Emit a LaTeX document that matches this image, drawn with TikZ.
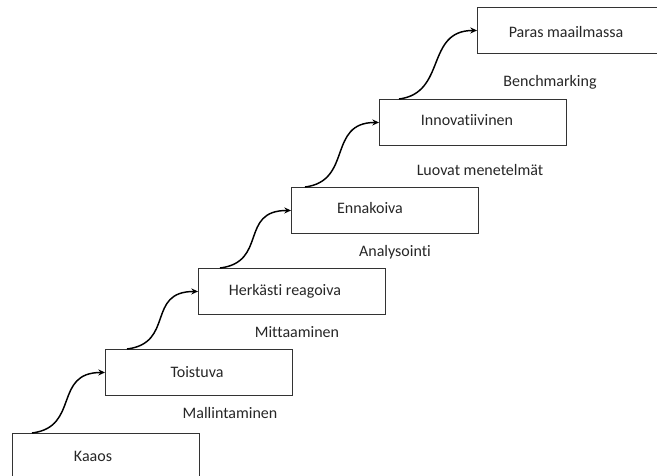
\documentclass[tikz,border=0pt]{standalone}
\usepackage{fontspec}
\setmainfont{Carlito}[Ligatures=NoCommon]
\usetikzlibrary{calc,arrows.meta}
\begin{document}
\begin{tikzpicture}[x=0.75pt,y=-0.75pt,
  stagebox/.style={draw=black!80,line width=0.7pt,rectangle,anchor=north west,
    minimum width=140.25pt,minimum height=34.5pt,inner sep=0pt},
  stagetext/.style={font=\fontsize{12pt}{14pt}\selectfont,text=black!85,inner sep=0pt},
  methodtext/.style={font=\fontsize{12pt}{14pt}\selectfont,text=black!85,inner sep=0pt},
  stepline/.style={line width=1.1pt,black,-{Stealth[length=5pt,width=4.5pt]}}]
\useasboundingbox (0,0) rectangle (657,475);
% the staircase of stages
\node[stagebox] (kaaos) at (12,433) {};
\node[stagebox] (toistuva) at (105,349) {};
\node[stagebox] (herkasti) at (198,268) {};
\node[stagebox] (ennakoiva) at (291,187) {};
\node[stagebox] (innov) at (379,99) {};
\node[stagebox] (paras) at (477,7) {};
% stage names
\node[stagetext] (tkaaos) at (93,456) {Kaaos};
\node[stagetext] (ttoistuva) at (197,372) {Toistuva};
\node[stagetext] (therkasti) at (285,291) {Herkästi reagoiva};
\node[stagetext] (tennakoiva) at (370,208) {Ennakoiva};
\node[stagetext] (tinnov) at (467,120) {Innovatiivinen};
\node[stagetext] (tparas) at (566,32) {Paras maailmassa};
% methods leading to the next stage
\node[methodtext] (m1) at (230,413) {Mallintaminen};
\node[methodtext] (m2) at (297,332) {Mittaaminen};
\node[methodtext] (m3) at (395,252) {Analysointi};
\node[methodtext] (m4) at (480,170) {Luovat menetelmät};
\node[methodtext] (m5) at (550,82) {Benchmarking};
% curved steps between stages
\coordinate (s1) at ($(kaaos.north west)+(20,0)$);
\coordinate (s2) at ($(toistuva.north west)+(22,0)$);
\coordinate (s3) at ($(herkasti.north west)+(22,0)$);
\coordinate (s4) at ($(ennakoiva.north west)+(14,0)$);
\coordinate (s5) at ($(innov.north west)+(20,0)$);
\draw[stepline] (s1) .. controls ($(s1)+(48,-6)$) and ($(toistuva.west)+(-52,0)$) .. (toistuva.west);
\draw[stepline] (s2) .. controls ($(s2)+(48,-6)$) and ($(herkasti.west)+(-52,0)$) .. (herkasti.west);
\draw[stepline] (s3) .. controls ($(s3)+(48,-6)$) and ($(ennakoiva.west)+(-52,0)$) .. (ennakoiva.west);
\draw[stepline] (s4) .. controls ($(s4)+(48,-6)$) and ($(innov.west)+(-52,0)$) .. (innov.west);
\draw[stepline] (s5) .. controls ($(s5)+(48,-6)$) and ($(paras.west)+(-52,0)$) .. (paras.west);
\end{tikzpicture}
\end{document}
